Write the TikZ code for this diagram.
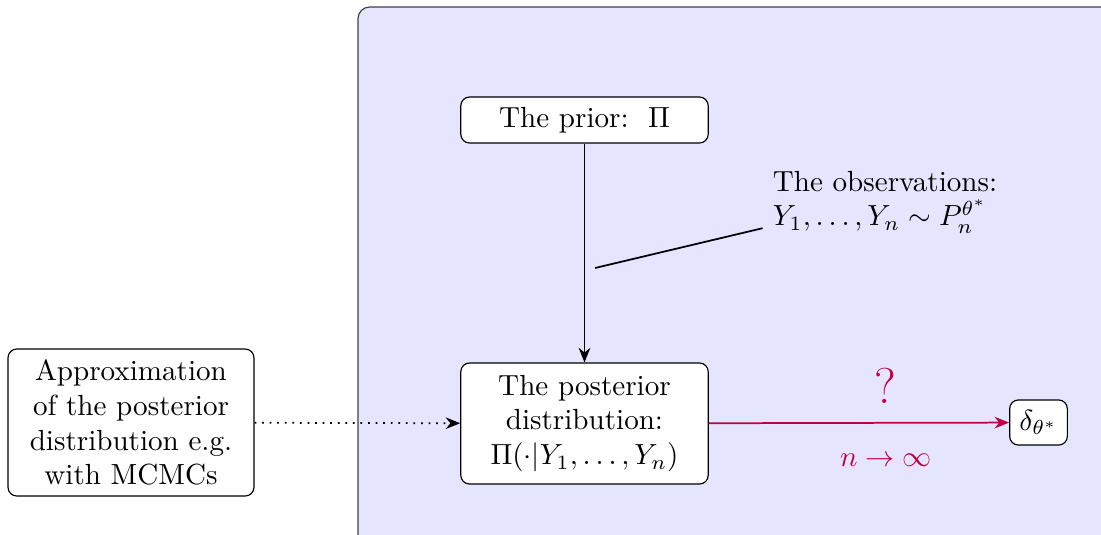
\documentclass[tikz,border=0pt]{standalone}
\usetikzlibrary{arrows.meta}
\begin{document}
\begin{tikzpicture}[x=0.3436pt,y=-0.3436pt,
  box/.style={draw, rounded corners=3pt, fill=white, align=center, inner sep=3.33pt},
  arr/.style={semithick, -{Stealth[length=5pt,width=4pt]}},
  lbl/.style={text=purple}]
\useasboundingbox (0,0) rectangle (1101,534);
\begin{scope}
  \clip (0,0) rectangle (1101,534);
  \draw[fill=blue!10, rounded corners=4pt, draw=black!75] (358,7) rectangle (1130,570);
\end{scope}
\node[box, minimum width=85pt, minimum height=15.8pt] (prior) at (584.5,120) {The prior:\ \ $\Pi$};
\node[box, minimum width=85pt, minimum height=41.6pt] (post) at (584.5,423.5) {The posterior\\distribution:\\$\Pi(\cdot|Y_1,\ldots,Y_n)$};
\node[box, minimum width=84.5pt, minimum height=50.5pt] (approx) at (131,422.5) {Approximation\\of the posterior\\distribution e.g.\\with MCMCs};
\node[box, minimum height=15.5pt] (delta) at (1038.5,422.5) {$\delta_{\theta^*}$};
\node[align=left, inner sep=3.33pt] (obs) at (885,202) {The observations:\\$Y_1,\ldots,Y_n\sim P_n^{\theta^*}$};
\coordinate (c1) at (595,268);
\draw[arr] (prior) -- (post);
\draw[semithick] (c1) -- ([yshift=-9pt]obs.west);
\draw[arr, dotted] (approx) -- (post);
\draw[arr, purple] (post) -- (delta);
\node[lbl, font=\LARGE] (q) at (885,386) {?};
\node[lbl] (lim) at (886,460) {$n\to\infty$};
\end{tikzpicture}
\end{document}
